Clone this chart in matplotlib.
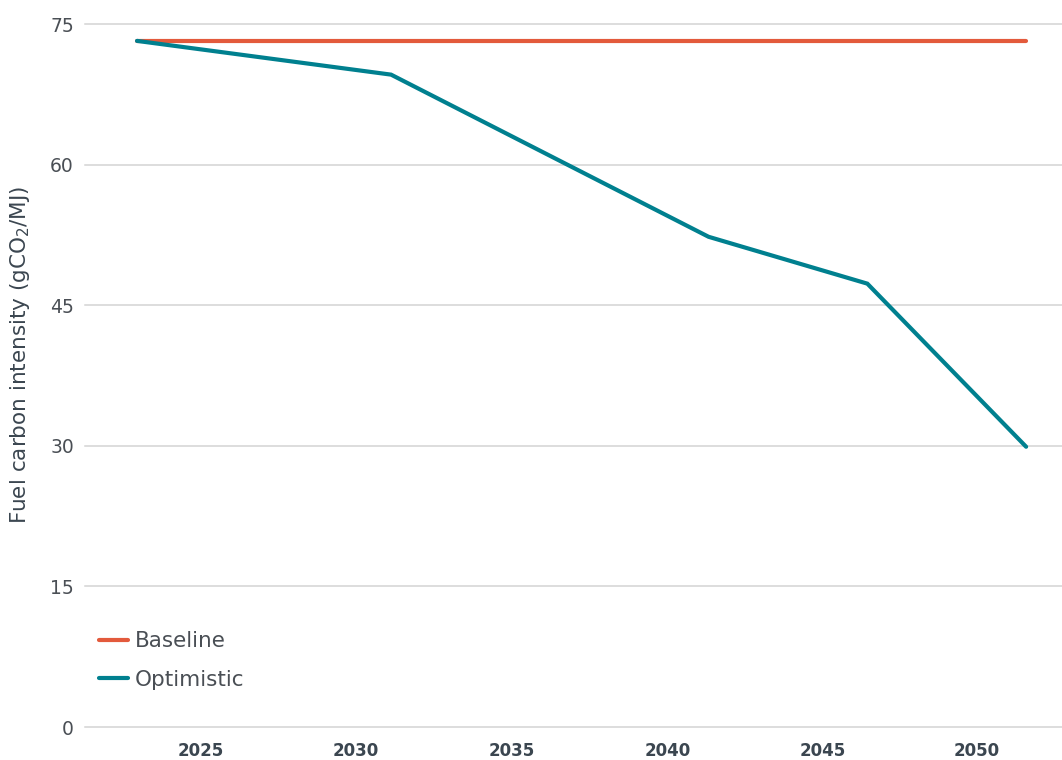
import matplotlib
matplotlib.use("Agg")
import matplotlib.pyplot as plt

plt.rcParams["font.family"] = ["DejaVu Sans"]

# ── data ──────────────────────────────────────────────────────────────────────
years      = [2022, 2030, 2040, 2045, 2050]
baseline   = [73.2, 73.2, 73.2, 73.2, 73.2]
optimistic = [73.2, 69.6, 52.3, 47.3, 29.9]

# tick labels sit slightly left of the data years in the original chart
tick_pos    = [2024.0, 2028.9, 2033.8, 2038.7, 2043.6, 2048.45]
tick_labels = ["2025", "2030", "2035", "2040", "2045", "2050"]
y_ticks     = [0, 15, 30, 45, 60, 75]

C_BASE = "#E35A3C"
C_OPT  = "#00808F"
C_GRID = "#D3D3D3"
C_TEXT = "#4A4F55"

fig = plt.figure(figsize=(10.62, 7.60), dpi=100)
ax = fig.add_axes([0.080, 0.0434, 0.920, 0.925])

ax.plot(years, baseline, color=C_BASE, lw=3, solid_capstyle="round",
        label="Baseline", zorder=3)
ax.plot(years, optimistic, color=C_OPT, lw=3, solid_capstyle="round",
        solid_joinstyle="miter", label="Optimistic", zorder=3)

ax.set_xlim(2020.36, 2051.13)
ax.set_ylim(0, 75)
ax.set_yticks(y_ticks)
ax.set_xticks(tick_pos)
ax.set_xticklabels(tick_labels, fontsize=12, fontweight="bold", color="#3B4650")
ax.tick_params(axis="y", length=0, pad=8, labelsize=13.5, labelcolor=C_TEXT)
ax.tick_params(axis="x", length=0, pad=11)

ax.grid(axis="y", color=C_GRID, lw=1.1, clip_on=False)
ax.set_axisbelow(True)
for s in ax.spines.values():
    s.set_visible(False)

fig.text(0.019, 0.533, "Fuel carbon intensity (gCO$_2$/MJ)", rotation=90,
         ha="center", va="center", fontsize=15.5, color="#3B4650")

ax.legend(loc="upper left", bbox_to_anchor=(0.014, 0.136), frameon=False,
          fontsize=15.5, handlelength=1.35, handletextpad=0.35,
          labelspacing=0.85, borderpad=0, borderaxespad=0,
          labelcolor=C_TEXT)

plt.savefig("out.png", dpi=100)
plt.close()
